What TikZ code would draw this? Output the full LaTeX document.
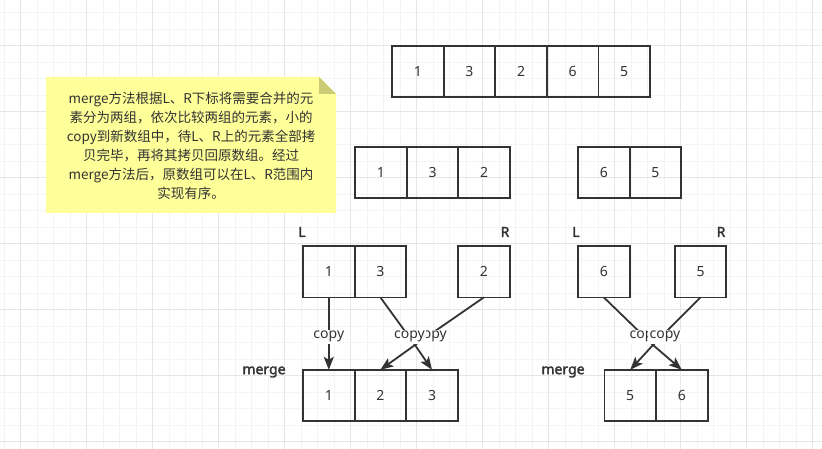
\documentclass[tikz,border=0pt]{standalone}
\usepackage{fontspec}
\setmainfont{Noto Sans}
\newfontfamily\cjk{Noto Sans CJK SC}
\newfontfamily\tagfont{Noto Sans}[FakeBold=2.2]
\usetikzlibrary{positioning,arrows.meta}
\definecolor{ink}{HTML}{333333}
\definecolor{notebg}{HTML}{FFFF99}
\definecolor{notefold}{HTML}{CCCC77}
\definecolor{gridminor}{HTML}{F4F4F4}
\definecolor{gridmajor}{HTML}{E6E6E6}

\begin{document}
\begin{tikzpicture}[
  x=1pt, y=-1pt,
  node distance=0pt,
  cell/.style={draw=ink, line width=1.8pt, minimum width=51.6pt, minimum height=51.4pt, inner sep=0pt, outer sep=0pt, text=ink, font=\fontsize{14}{16}\selectfont},
  tag/.style={text=ink, font=\tagfont\fontsize{14}{16}\selectfont},
  lbl/.style={fill=white, text=ink, inner sep=1.5pt, font=\fontsize{14}{16}\selectfont},
  notetext/.style={text=ink, align=center, font=\cjk\fontsize{13.5}{19}\selectfont},
  flow/.style={draw=ink, line width=1.8pt, line join=round, -{Stealth[length=13pt,width=10pt,inset=3pt]}},
  minor/.style={draw=gridminor, line width=1pt},
  major/.style={draw=gridmajor, line width=1pt}
]
\useasboundingbox (0,0) rectangle (822,449);
\fill[white] (0,0) rectangle (822,449);
\foreach \k in {-1,...,48} \draw[minor] ({20.7+16.5*\k},0) -- ({20.7+16.5*\k},449);
\foreach \j in {-2,...,24} \draw[minor] (0,{45.7+16.5*\j}) -- (822,{45.7+16.5*\j});
\foreach \k in {0,4,...,48} \draw[major] ({20.7+16.5*\k},0) -- ({20.7+16.5*\k},449);
\foreach \j in {0,4,...,24} \draw[major] (0,{45.7+16.5*\j}) -- (822,{45.7+16.5*\j});

\fill[notebg] (46,77) -- (319,77) -- (336,94) -- (336,213) -- (46,213) -- cycle;
\fill[notefold] (319,77) -- (336,94) -- (319,94) -- cycle;
\node[notetext] (note) at (191,146) {merge方法根据L、R下标将需要合并的元\\素分为两组，依次比较两组的元素，小的\\copy到新数组中，待L、R上的元素全部拷\\贝完毕，再将其拷贝回原数组。经过\\merge方法后，原数组可以在L、R范围内\\实现有序。};

\node[cell] (in1) at (417.8,71.6) {1};
\node[cell, right=of in1] (in2) {3};
\node[cell, right=of in2] (in3) {2};
\node[cell, right=of in3] (in4) {6};
\node[cell, right=of in4] (in5) {5};

\node[cell] (lh1) at (380.9,172.5) {1};
\node[cell, right=of lh1] (lh2) {3};
\node[cell, right=of lh2] (lh3) {2};
\node[cell] (rh1) at (603.8,172.5) {6};
\node[cell, right=of rh1] (rh2) {5};

\node[tag] (lL) at (302,232) {L};
\node[tag] (lR) at (505,232) {R};
\node[cell] (la1) at (328.8,271.7) {1};
\node[cell, right=of la1] (la2) {3};
\node[cell] (ra1) at (483.8,271.7) {2};
\node[tag] (lmerge) at (264,372) {merge};
\node[cell] (lm1) at (328.8,395.5) {1};
\node[cell, right=of lm1] (lm2) {2};
\node[cell, right=of lm2] (lm3) {3};

\node[tag] (rL) at (576,232) {L};
\node[tag] (rR) at (721,232) {R};
\node[cell] (lb1) at (603.8,271.7) {6};
\node[cell] (rb1) at (700.5,271.7) {5};
\node[tag] (rmerge) at (563,372) {merge};
\node[cell] (rm1) at (630.2,395.5) {5};
\node[cell, right=of rm1] (rm2) {6};

\coordinate (jl) at (415,345);
\coordinate (jr) at (653,345);

\draw[flow] (la1) -- node[lbl, yshift=-3pt] {copy} (lm1);
\draw[flow] (ra1.south) -- (jl) node[lbl, xshift=16.5pt, yshift=8.3pt] {copy} -- (lm2.north);
\draw[flow] (la2.south) -- (jl) node[lbl, xshift=-5.5pt, yshift=8.3pt] {copy} -- (lm3.north);
\draw[flow] (lb1.south) -- (jr) node[lbl, xshift=-8pt, yshift=8.3pt] {copy} -- (rm2.north);
\draw[flow] (rb1.south) -- (jr) node[lbl, xshift=12pt, yshift=8.3pt] {copy} -- (rm1.north);
\end{tikzpicture}
\end{document}
